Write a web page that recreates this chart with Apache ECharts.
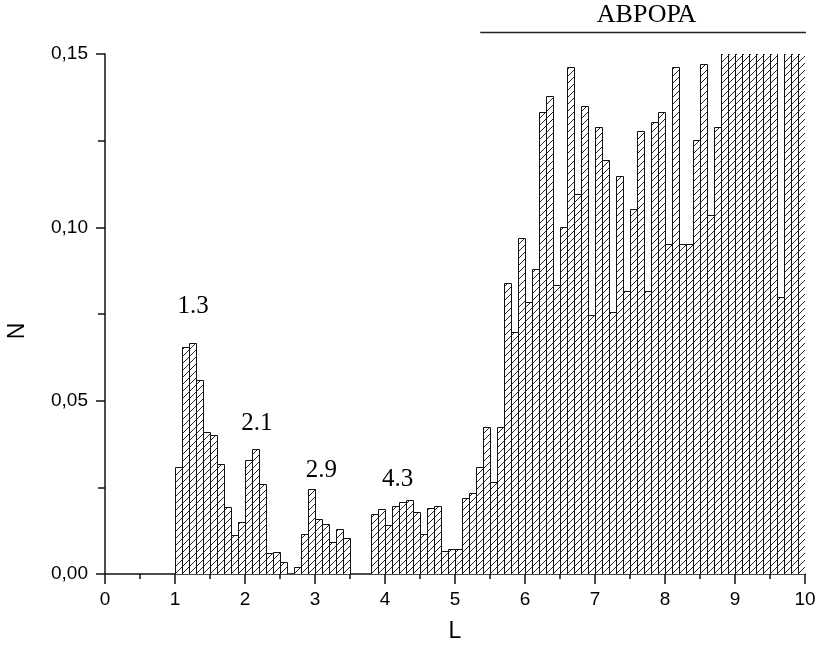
<!doctype html>
<html lang="ru">
<head>
    <meta charset="UTF-8">
    <title>N(L)</title>
    <style>
        *{
            margin:0;
            padding:0;
        }
        html,body {
            height:100%;
            background:#fff;
        }
        #main{
            width:818px;
            height:650px;
        }
    </style>
</head>
<body>

<div id="main"></div>
<script src="https://cdn.jsdelivr.net/npm/echarts@6/dist/echarts.min.js"></script>
<script>

    // histogram bins: left edge of each 0.1-wide bin in L, and its height N
    var binWidth = 0.1;
    var binLeft = [
        1.0, 1.1, 1.2, 1.3, 1.4, 1.5, 1.6, 1.7, 1.8, 1.9,
        2.0, 2.1, 2.2, 2.3, 2.4, 2.5,
        2.7, 2.8, 2.9, 3.0, 3.1, 3.2, 3.3, 3.4,
        3.8, 3.9, 4.0, 4.1, 4.2, 4.3, 4.4, 4.5, 4.6, 4.7, 4.8, 4.9,
        5.0, 5.1, 5.2, 5.3, 5.4, 5.5, 5.6, 5.7, 5.8, 5.9,
        6.0, 6.1, 6.2, 6.3, 6.4, 6.5, 6.6, 6.7, 6.8, 6.9,
        7.0, 7.1, 7.2, 7.3, 7.4, 7.5, 7.6, 7.7, 7.8, 7.9,
        8.0, 8.1, 8.2, 8.3, 8.4, 8.5, 8.6, 8.7, 8.8, 8.9,
        9.0, 9.1, 9.2, 9.3, 9.4, 9.5, 9.6, 9.7, 9.8, 9.9
    ];
    var binN = [
        0.0308, 0.0656, 0.0667, 0.0561, 0.0410, 0.0400, 0.0318, 0.0194, 0.0112, 0.0149,
        0.0329, 0.0361, 0.0260, 0.0060, 0.0064, 0.0036,
        0.0021, 0.0114, 0.0245, 0.0160, 0.0143, 0.0093, 0.0129, 0.0103,
        0.0172, 0.0187, 0.0140, 0.0196, 0.0209, 0.0213, 0.0179, 0.0116, 0.0190, 0.0195, 0.0065, 0.0071,
        0.0071, 0.0220, 0.0233, 0.0310, 0.0423, 0.0266, 0.0423, 0.0840, 0.0699, 0.0970,
        0.0785, 0.0879, 0.1334, 0.1380, 0.0833, 0.1000, 0.1463, 0.1096, 0.1351, 0.0746,
        0.1289, 0.1194, 0.0757, 0.1148, 0.0816, 0.1052, 0.1278, 0.0816, 0.1305, 0.1334,
        0.0952, 0.1463, 0.0952, 0.0952, 0.1251, 0.1471, 0.1035, 0.1290, 0.1600, 0.1600,
        0.1600, 0.1600, 0.1600, 0.1600, 0.1600, 0.1600, 0.0800, 0.1600, 0.1600, 0.1600
    ];

    // peak annotations
    var peakText = ['1.3', '2.1', '2.9', '4.3'];
    var peakL = [1.26, 2.17, 3.09, 4.18];
    var peakN = [0.0773, 0.0433, 0.0299, 0.0274];

    // experiment range marker
    var rangeName = 'АВРОРА';
    var rangeL = [5.36, 10];

    var xTicks = { min: 0, max: 10, step: 1 };
    var yTicks = { min: 0, max: 0.15, step: 0.05 };


    // diagonal hatch tile
    var tile = document.createElement('canvas');
    tile.width = 7;
    tile.height = 7;
    var tc = tile.getContext('2d');
    tc.fillStyle = '#fff';
    tc.fillRect(0, 0, 7, 7);
    tc.strokeStyle = '#262626';
    tc.lineWidth = 1;
    tc.beginPath();
    tc.moveTo(-1, 8);
    tc.lineTo(8, -1);
    tc.stroke();
    var hatch = { image: tile, repeat: 'repeat' };

    var binData = binLeft.map(function (l, i) {
        return [l, binN[i]];
    });
    var peakData = peakText.map(function (t, i) {
        return [peakL[i], peakN[i], t];
    });

    function renderBin(params, api) {
        var left = api.value(0);
        var p0 = api.coord([left, 0]);
        var p1 = api.coord([left + binWidth, api.value(1)]);
        var x0 = Math.round(p0[0]) + 0.5;
        var x1 = Math.round(p1[0]) + 0.5;
        var yb = Math.round(p0[1]) + 0.5;
        var yt = Math.round(p1[1]) + 0.5;
        return {
            type: 'rect',
            shape: { x: x0, y: yt, width: x1 - x0, height: yb - yt },
            style: { fill: hatch, stroke: '#111', lineWidth: 1 }
        };
    }

    var axisColor = '#111';
    var sans = 'Liberation Sans, Arial, sans-serif';
    var serif = 'Liberation Serif, Times New Roman, serif';

    var myChart = echarts.init(document.getElementById('main'));

    myChart.setOption({
        animation: false,
        backgroundColor: '#fff',
        grid: {
            left: 105,
            right: 13,
            top: 54,
            bottom: 76,
            containLabel: false,
            outerBoundsMode: 'none'
        },
        xAxis: {
            type: 'value',
            min: xTicks.min,
            max: xTicks.max,
            interval: xTicks.step,
            name: 'L',
            nameLocation: 'middle',
            nameGap: 46,
            nameTextStyle: { fontFamily: sans, fontSize: 23, color: '#000' },
            axisLine: { show: true, onZero: false, lineStyle: { color: axisColor, width: 1.5 } },
            axisTick: { show: true, length: 10, lineStyle: { color: axisColor, width: 1.5 } },
            minorTick: { show: true, splitNumber: 2, length: 5, lineStyle: { color: axisColor, width: 1.5 } },
            splitLine: { show: false },
            minorSplitLine: { show: false },
            axisLabel: { fontFamily: sans, fontSize: 19, color: '#000', margin: 16 }
        },
        yAxis: {
            type: 'value',
            min: yTicks.min,
            max: yTicks.max,
            interval: yTicks.step,
            name: 'N',
            nameLocation: 'middle',
            nameRotate: 90,
            nameGap: 76,
            nameTextStyle: { fontFamily: sans, fontSize: 23, color: '#000', padding: [0, 34, 0, 0] },
            axisLine: { show: true, onZero: false, lineStyle: { color: axisColor, width: 1.5 } },
            axisTick: { show: true, length: 9, lineStyle: { color: axisColor, width: 1.5 } },
            minorTick: { show: true, splitNumber: 2, length: 7, lineStyle: { color: axisColor, width: 1.5 } },
            splitLine: { show: false },
            minorSplitLine: { show: false },
            axisLabel: {
                fontFamily: sans,
                fontSize: 19,
                color: '#000',
                margin: 17,
                formatter: function (v) {
                    return v.toFixed(2).replace('.', ',');
                }
            }
        },
        series: [
            {
                type: 'custom',
                clip: true,
                renderItem: renderBin,
                encode: { x: 0, y: 1 },
                data: binData,
                silent: true
            },
            {
                type: 'scatter',
                symbolSize: 0,
                silent: true,
                itemStyle: { opacity: 1, color: '#000' },
                data: peakData,
                label: {
                    show: true,
                    position: 'inside',
                    formatter: function (p) { return p.value[2]; },
                    fontFamily: serif,
                    fontSize: 25,
                    color: '#000',
                    opacity: 1,
                    textBorderWidth: 0
                }
            }
        ]
    });

    // range bar above the plot, placed from data coordinates
    var a = myChart.convertToPixel({ gridIndex: 0 }, [rangeL[0], yTicks.max]);
    var b = myChart.convertToPixel({ gridIndex: 0 }, [rangeL[1], yTicks.max]);
    myChart.setOption({
        graphic: [
            {
                type: 'line',
                shape: { x1: a[0], y1: 32.5, x2: b[0] + 1, y2: 32.5 },
                style: { stroke: '#222', lineWidth: 1.5 },
                silent: true
            },
            {
                type: 'text',
                x: (a[0] + b[0]) / 2 + 4,
                y: 15,
                style: {
                    text: rangeName,
                    fontFamily: serif,
                    fontSize: 26,
                    fill: '#000',
                    align: 'center',
                    verticalAlign: 'middle'
                },
                silent: true
            }
        ]
    });

</script>
</body>
</html>
